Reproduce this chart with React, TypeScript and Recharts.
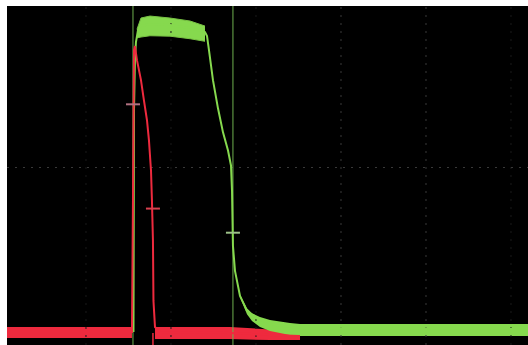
import {
  Area,
  Cell,
  ComposedChart,
  Line,
  ReferenceLine,
  Scatter,
  XAxis,
  YAxis,
} from "recharts";

// Scope capture, units are screen divisions (0,0 = graticule centre).
const T_DOMAIN: [number, number] = [-4.929, 1.2];
const V_DOMAIN: [number, number] = [-2.082, 1.894];

const gridT = [-4, -3, -2, -1, 0, 1];
const gridV = [0];

// CH red — short pulse
const redT = [-4.929, -3.459, -3.447, -3.435, -3.424, -3.4, -3.353, -3.318, -3.282, -3.259, -3.235, -3.224, -3.212, -3.206, -3.188, -3.129, -2.306, -1.835, -1.482];
const redV = [-1.929, -1.929, -0.388, 1.376, 1.424, 1.259, 1.024, 0.788, 0.553, 0.318, -0.035, -0.388, -0.859, -1.565, -1.871, -1.929, -1.941, -1.965, -1.976];

// noise envelope of the red baseline (before / after the pulse)
const redNoiseAT = [-4.929, -3.459];
const redNoiseALo = [-2.0, -2.0];
const redNoiseAHi = [-1.871, -1.871];
const redNoiseBT = [-3.188, -2.306, -1.835, -1.482];
const redNoiseBLo = [-2.012, -2.012, -2.024, -2.024];
const redNoiseBHi = [-1.871, -1.871, -1.9, -1.918];

// CH green — long pulse
const greenT = [-3.441, -3.435, -3.424, -3.412, -3.388, -3.353, -3.247, -3.012, -2.776, -2.6, -2.576, -2.553, -2.506, -2.447, -2.388, -2.329, -2.294, -2.282, -2.271, -2.247, -2.188, -2.106, -1.976, -1.776, -1.482, 1.2];
const greenV = [-1.929, 0.671, 1.259, 1.471, 1.612, 1.659, 1.682, 1.671, 1.635, 1.588, 1.541, 1.376, 1.024, 0.694, 0.412, 0.2, 0.024, -0.271, -0.918, -1.212, -1.506, -1.682, -1.776, -1.847, -1.882, -1.894];

// noise envelope of the green pulse top and of its tail
const greenTopT = [-3.4, -3.353, -3.247, -3.012, -2.776, -2.6];
const greenTopLo = [1.52, 1.53, 1.545, 1.54, 1.51, 1.48];
const greenTopHi = [1.62, 1.753, 1.776, 1.753, 1.718, 1.659];

const greenTailT = [-2.188, -2.106, -2.047, -1.953, -1.835, -1.6, -1.482, 1.2];
const greenTailLo = [-1.52, -1.72, -1.8, -1.871, -1.918, -1.965, -1.976, -1.976];
const greenTailHi = [-1.49, -1.65, -1.71, -1.753, -1.788, -1.824, -1.835, -1.835];

// cursor crossing markers
const markT = [-3.447, -3.212, -2.271];
const markV = [0.741, -0.482, -0.765];

const cursorT = [-3.447, -2.271];

const RED = "#ee2a3e";
const GREEN = "#86d94e";
const markColors = ["#b07080", "#d8404e", "#9cc088"];

const pts = (t: number[], v: number[]) => t.map((x, i) => ({ t: x, v: v[i] }));
const band = (t: number[], lo: number[], hi: number[]) =>
  t.map((x, i) => ({ t: x, band: [lo[i], hi[i]] }));

function Tick(props: any) {
  const { cx, cy, fill } = props;
  if (cx == null || cy == null) return null;
  return <line x1={cx - 7} x2={cx + 7} y1={cy} y2={cy} stroke={fill} strokeWidth={2} />;
}

export default function App() {
  return (
    <div style={{ position: "absolute", left: 7, top: 6, background: "#000" }}>
      <ComposedChart
        width={521}
        height={339}
        margin={{ top: 0, right: 0, bottom: 0, left: 0 }}
        style={{ background: "#000" }}
      >
        <XAxis type="number" dataKey="t" domain={T_DOMAIN} hide allowDataOverflow />
        <YAxis type="number" domain={V_DOMAIN} hide allowDataOverflow />

        {gridT.map((t) => (
          <ReferenceLine
            key={`gx${t}`}
            x={t}
            stroke={t === 0 || t === -1 ? "#3a3a3a" : "#1a1a1a"}
            strokeDasharray="2 6"
          />
        ))}
        {gridV.map((v) => (
          <ReferenceLine key={`gy${v}`} y={v} stroke="#3a3a3a" strokeDasharray="2 6" />
        ))}

        {cursorT.map((t) => (
          <ReferenceLine key={`c${t}`} x={t} stroke="#6fb04f" strokeWidth={1} />
        ))}
        <ReferenceLine
          segment={[
            { x: -3.212, y: -1.94 },
            { x: -3.212, y: -2.082 },
          ]}
          stroke={RED}
          strokeWidth={1.5}
        />

        <Area
          data={band(redNoiseAT, redNoiseALo, redNoiseAHi)}
          dataKey="band"
          type="linear"
          stroke="none"
          fill={RED}
          fillOpacity={1}
          isAnimationActive={false}
        />
        <Area
          data={band(redNoiseBT, redNoiseBLo, redNoiseBHi)}
          dataKey="band"
          type="linear"
          stroke="none"
          fill={RED}
          fillOpacity={1}
          isAnimationActive={false}
        />

        {/* green edge sits under the red edge; red pulse drawn over it */}
        <Line
          data={pts(greenT, greenV)}
          dataKey="v"
          type="linear"
          stroke={GREEN}
          strokeWidth={2}
          dot={false}
          isAnimationActive={false}
        />
        <Line
          data={pts(redT, redV)}
          dataKey="v"
          type="linear"
          stroke={RED}
          strokeWidth={2}
          dot={false}
          isAnimationActive={false}
        />

        <Area
          data={band(greenTopT, greenTopLo, greenTopHi)}
          dataKey="band"
          type="linear"
          stroke="#78c244"
          strokeWidth={1}
          fill={GREEN}
          fillOpacity={1}
          isAnimationActive={false}
        />
        <Area
          data={band(greenTailT, greenTailLo, greenTailHi)}
          dataKey="band"
          type="linear"
          stroke="none"
          fill={GREEN}
          fillOpacity={1}
          isAnimationActive={false}
        />

        <Scatter data={pts(markT, markV)} dataKey="v" shape={<Tick />} isAnimationActive={false}>
          {markT.map((t, i) => (
            <Cell key={t} fill={markColors[i]} />
          ))}
        </Scatter>
      </ComposedChart>
    </div>
  );
}
